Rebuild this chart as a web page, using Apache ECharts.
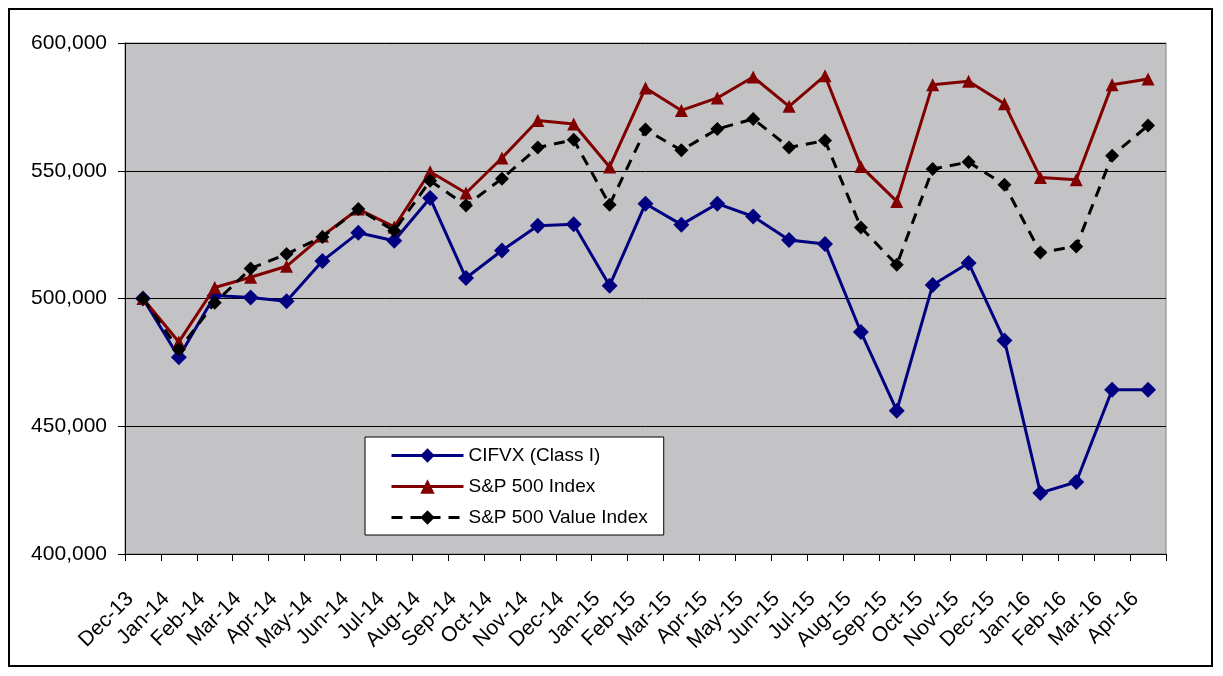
<!DOCTYPE html>
<html>
<head>
<meta charset="utf-8">
<script src="https://cdn.jsdelivr.net/npm/echarts@6/dist/echarts.min.js"></script>
<style>
html,body{margin:0;padding:0;background:#fff;}
#chart{width:1223px;height:676px;}
</style>
</head>
<body>
<div id="chart"></div>
<script>
var categories = ['Dec-13','Jan-14','Feb-14','Mar-14','Apr-14','May-14','Jun-14','Jul-14','Aug-14','Sep-14','Oct-14','Nov-14','Dec-14','Jan-15','Feb-15','Mar-15','Apr-15','May-15','Jun-15','Jul-15','Aug-15','Sep-15','Oct-15','Nov-15','Dec-15','Jan-16','Feb-16','Mar-16','Apr-16'];

var cifvx = [500000,477000,501200,500400,498900,514700,525700,522600,539300,508000,518800,528500,529100,505000,537100,528900,537100,532100,522900,521300,486900,456100,505300,513900,483600,423900,428200,464300,464300];

var sp500 = [500000,483000,504300,508300,512600,524500,535000,528000,549600,541300,555000,569700,568300,551500,582400,573600,578500,586700,575200,587200,551700,538000,583700,585000,576200,547400,546500,583700,585900];

var sp500Value = [500000,480000,498300,511700,517400,524100,535000,526500,546100,536400,546900,559100,562100,536700,566100,558000,566300,570300,559100,561800,527800,513200,550700,553400,544500,518000,520400,555900,567700];

var yMin = 400000, yMax = 600000, yStep = 50000;

function fmt(v){ return String(v).replace(/\B(?=(\d{3})+(?!\d))/g, ','); }

var FONT = 'Liberation Sans, Arial, sans-serif';
var chart = echarts.init(document.getElementById('chart'), null, {renderer:'canvas'});
chart.setOption({
  animation: false,
  backgroundColor: '#ffffff',
  graphic: [{
    type: 'rect', z: -10, silent: true,
    shape: {x: 9, y: 9, width: 1203, height: 657},
    style: {fill: null, stroke: '#000', lineWidth: 2}
  }],
  grid: {
    left: 125, right: 57, top: 43, bottom: 122,
    show: true, backgroundColor: '#c3c3c5', borderColor: '#808080', borderWidth: 1
  },
  legend: {
    orient: 'vertical',
    left: 365, top: 437,
    backgroundColor: '#ffffff',
    borderColor: '#000', borderWidth: 1,
    padding: [9, 16, 8, 25],
    itemWidth: 72, itemHeight: 18, itemGap: 12,
    lineStyle: {width: 3},
    textStyle: {fontFamily: FONT, fontSize: 19, color: '#000'},
    data: ['CIFVX (Class I)', 'S&P 500 Index', 'S&P 500 Value Index']
  },
  xAxis: {
    type: 'category',
    data: categories,
    boundaryGap: true,
    axisLine: {lineStyle: {color: '#000', width: 1}},
    axisTick: {show: true, length: 7, alignWithLabel: false, lineStyle: {color: '#000'}},
    axisLabel: {
      interval: 0, rotate: 45, margin: 29,
      fontFamily: FONT, fontSize: 21, color: '#000',
      padding: [0, 18, 0, 0]
    },
    splitLine: {show: false}
  },
  yAxis: {
    type: 'value',
    min: yMin, max: yMax, interval: yStep,
    axisLine: {show: true, lineStyle: {color: '#000', width: 1}},
    axisTick: {show: true, length: 7, lineStyle: {color: '#000'}},
    axisLabel: {margin: 18, fontFamily: FONT, fontSize: 21, color: '#000', formatter: fmt},
    splitLine: {show: true, lineStyle: {color: '#000', width: 1}}
  },
  series: [
    {
      name: 'CIFVX (Class I)', type: 'line', data: cifvx,
      symbol: 'diamond', symbolSize: 16,
      lineStyle: {color: '#000080', width: 3},
      itemStyle: {color: '#000080'},
      z: 2
    },
    {
      name: 'S&P 500 Index', type: 'line', data: sp500,
      symbol: 'triangle', symbolSize: 13,
      lineStyle: {color: '#800000', width: 3},
      itemStyle: {color: '#800000'},
      z: 3
    },
    {
      name: 'S&P 500 Value Index', type: 'line', data: sp500Value,
      symbol: 'diamond', symbolSize: 14,
      lineStyle: {color: '#000000', width: 3, type: [11, 8]},
      itemStyle: {color: '#000000'},
      z: 4
    }
  ]
});
</script>
</body>
</html>
